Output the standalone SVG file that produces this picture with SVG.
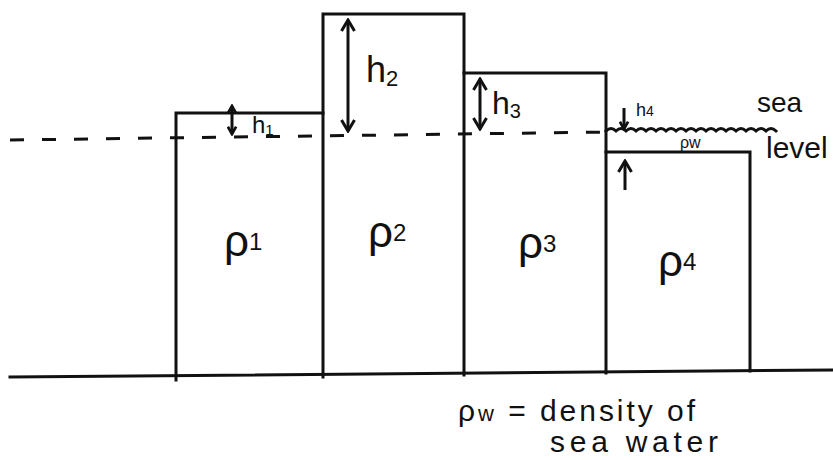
<svg xmlns="http://www.w3.org/2000/svg" width="833" height="460" viewBox="0 0 833 460">
<defs>
<style>
.ln{fill:none;stroke:#111;stroke-width:3;stroke-linecap:square}
.ar{fill:none;stroke:#111;stroke-width:3}
.t{font-family:"Liberation Sans",Arial,sans-serif;fill:#111}
</style>
<marker id="big" viewBox="0 0 16 16" markerWidth="16" markerHeight="16" refX="14" refY="8" orient="auto-start-reverse" markerUnits="userSpaceOnUse">
<path d="M3,1.5 L14,8 L3,14.5" fill="none" stroke="#111" stroke-width="3"/>
</marker>
<marker id="sm" viewBox="0 0 12 12" markerWidth="11" markerHeight="11" refX="10" refY="6" orient="auto-start-reverse" markerUnits="userSpaceOnUse">
<path d="M2,1.5 L10,6 L2,10.5" fill="none" stroke="#111" stroke-width="3"/>
</marker>
</defs>
<rect width="833" height="460" fill="#fff"/>

<g id="ground">
<path class="ln" d="M10,377 L833,370"/>
</g>

<g id="sea-level">
<path d="M10,140 L612,132" fill="none" stroke="#111" stroke-width="3" stroke-dasharray="14 18"/>
<path class="ln" d="M606,131 q5,-5 10,0 q5,-5 10,0 q5,-5 10,0 q5,-5 10,0 q5,-5 10,0 q5,-5 10,0 q5,-5 10,0 q5,-5 10,0 q5,-5 10,0 q5,-5 10,0 q5,-5 10,0 q5,-5 10,0 q5,-5 10,0 q5,-5 10,0 q5,-5 10,0 q5,-5 10,0 q5,-5 10,0" stroke-width="2.5"/>
<text class="t" x="757" y="112" font-size="28">sea</text>
<text class="t" x="766" y="158" font-size="30">level</text>
</g>

<g id="block1">
<path class="ln" d="M176,380 V113 H323 V377"/>
<text class="t" x="224" y="256" font-size="44">ρ<tspan font-size="24" dy="-6">1</tspan></text>
</g>

<g id="block2">
<path class="ln" d="M323,113 V14 H464 V375"/>
<text class="t" x="368" y="247" font-size="44">ρ<tspan font-size="24" dy="-6">2</tspan></text>
</g>

<g id="block3">
<path class="ln" d="M464,73 H606 V373"/>
<text class="t" x="518" y="258" font-size="44">ρ<tspan font-size="24" dy="-6">3</tspan></text>
</g>

<g id="block4">
<path class="ln" d="M606,152 H750 V371"/>
<text class="t" x="658" y="276" font-size="44">ρ<tspan font-size="24" dy="-6">4</tspan></text>
</g>

<g id="seawater-layer">
<text class="t" x="680" y="148" font-size="16">ρw</text>
</g>

<g id="connectors">
<line class="ar" x1="232" y1="106" x2="232" y2="134" marker-start="url(#sm)" marker-end="url(#sm)"/>
<line class="ar" x1="348" y1="20" x2="348" y2="131" marker-start="url(#big)" marker-end="url(#big)"/>
<line class="ar" x1="480" y1="79" x2="480" y2="129" marker-start="url(#big)" marker-end="url(#big)"/>
<line class="ar" x1="624" y1="108" x2="624" y2="129" marker-end="url(#sm)"/>
<line class="ar" x1="625" y1="190" x2="625" y2="161" marker-end="url(#big)"/>
</g>

<g id="labels">
<text class="t" x="252" y="133" font-size="24">h<tspan font-size="15" dy="2">1</tspan></text>
<text class="t" x="366" y="82" font-size="36">h<tspan font-size="22" dy="4">2</tspan></text>
<text class="t" x="492" y="114" font-size="32">h<tspan font-size="20" dy="4">3</tspan></text>
<text class="t" x="636" y="116" font-size="18">h<tspan font-size="14" dy="0">4</tspan></text>
</g>

<g id="legend">
<text class="t" x="458" y="421" font-size="30" textLength="237" lengthAdjust="spacing">ρ<tspan font-size="22">w</tspan> = density of</text>
<text class="t" x="550" y="452" font-size="30" textLength="168" lengthAdjust="spacing">sea water</text>
</g>
</svg>
